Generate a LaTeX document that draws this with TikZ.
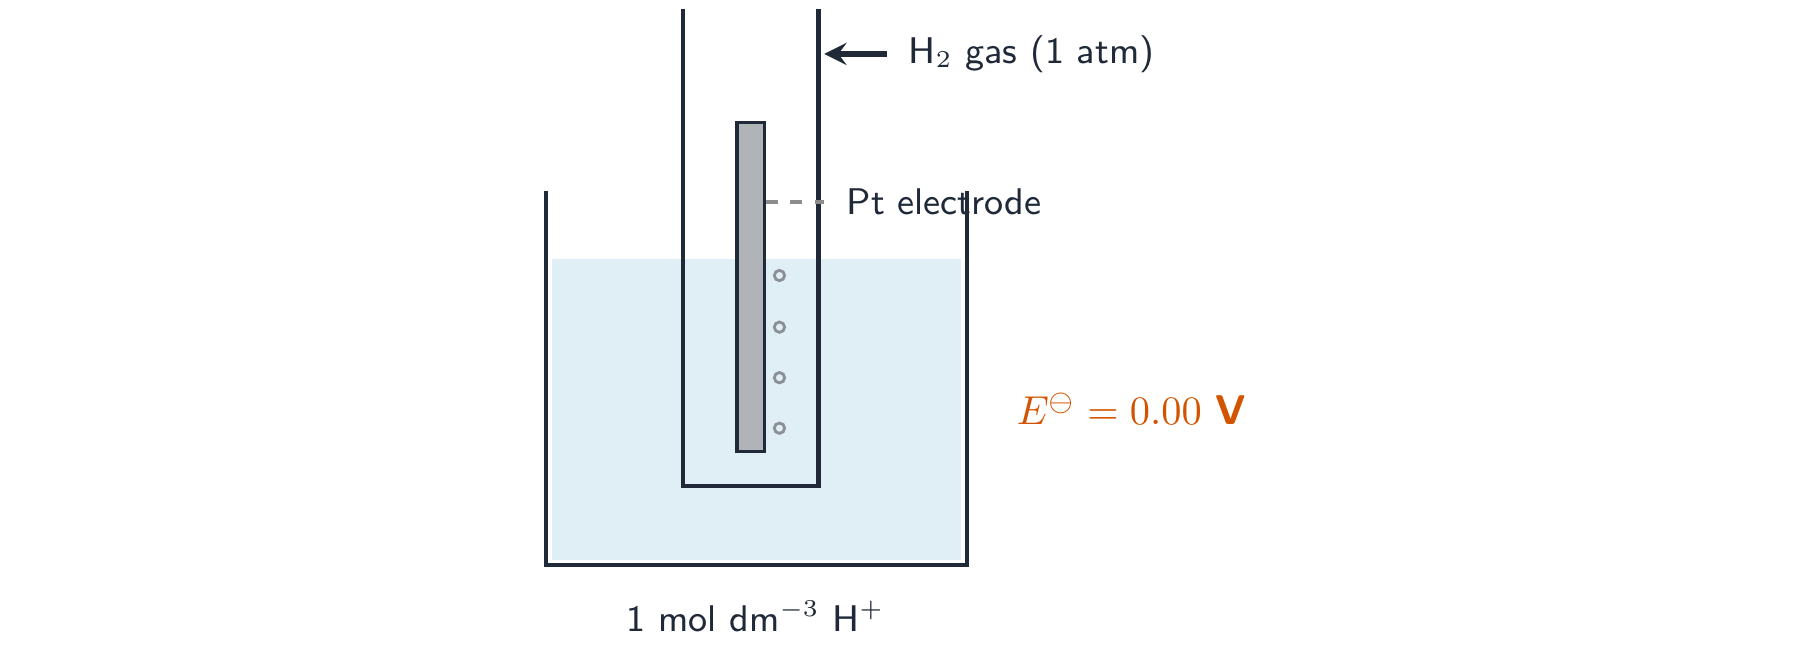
\documentclass[tikz,border=0pt]{standalone}
\usepackage{amsmath,amssymb}
\usetikzlibrary{positioning}
\definecolor{ink}{HTML}{1F2937}
\definecolor{water}{HTML}{E0EEF5}
\definecolor{metal}{HTML}{B0B4B9}
\definecolor{bubble}{HTML}{8A9096}
\definecolor{accent}{HTML}{D35400}
\begin{document}
\begin{tikzpicture}
	[x=0.01cm, y=-0.01cm,
	font=\sffamily\fontsize{9.2}{11}\selectfont, text=ink]

\tikzstyle{glass} =
	[draw=ink, line width=1pt]

\tikzstyle{label} =
	[anchor=west, inner sep=0pt]

\useasboundingbox (0, 0) rectangle (1568, 566);

% Solution and glassware
\fill[water] (481, 226) rectangle (837, 488);
\draw[glass] (476, 166) -- (476, 492) -- (842, 492) -- (842, 166);
\draw[glass] (595, 8) -- (595, 423) -- (713, 423) -- (713, 8);

% Electrode and bubbles
\node (Electrode) at (654, 250)
	[draw=ink, fill=metal, line width=0.8pt, minimum width=0.24cm, minimum height=2.86cm, inner sep=0pt] {};
\foreach \y in {240, 285, 329, 373}
	\draw[bubble, line width=0.7pt] (679, \y) circle (4.5);

% Labels
\node (PtLabel) at (737, 176) [label] {Pt electrode};
\coordinate (PtEnd) at (718, 176);
\draw[gray!90, dashed, line width=0.8pt] (Electrode.east |- PtEnd) -- (PtEnd);

\node (GasLabel) at (791, 47) [label] {H$_2$ gas (1 atm)};
\coordinate (GasTip) at (718, 47);
\draw[ink, line width=1.4pt, ->, >=stealth] (773, 47) -- (GasTip);

\node (Potential) at (885, 356) [label, text=accent, font=\fontsize{10.3}{12}\selectfont]
	{$E^{\ominus} = 0.00$ \textbf{\sffamily V}};

\node (Solution) at (658, 537) [inner sep=0pt] {1 mol dm$^{-3}$ H$^{+}$};

\end{tikzpicture}
\end{document}
